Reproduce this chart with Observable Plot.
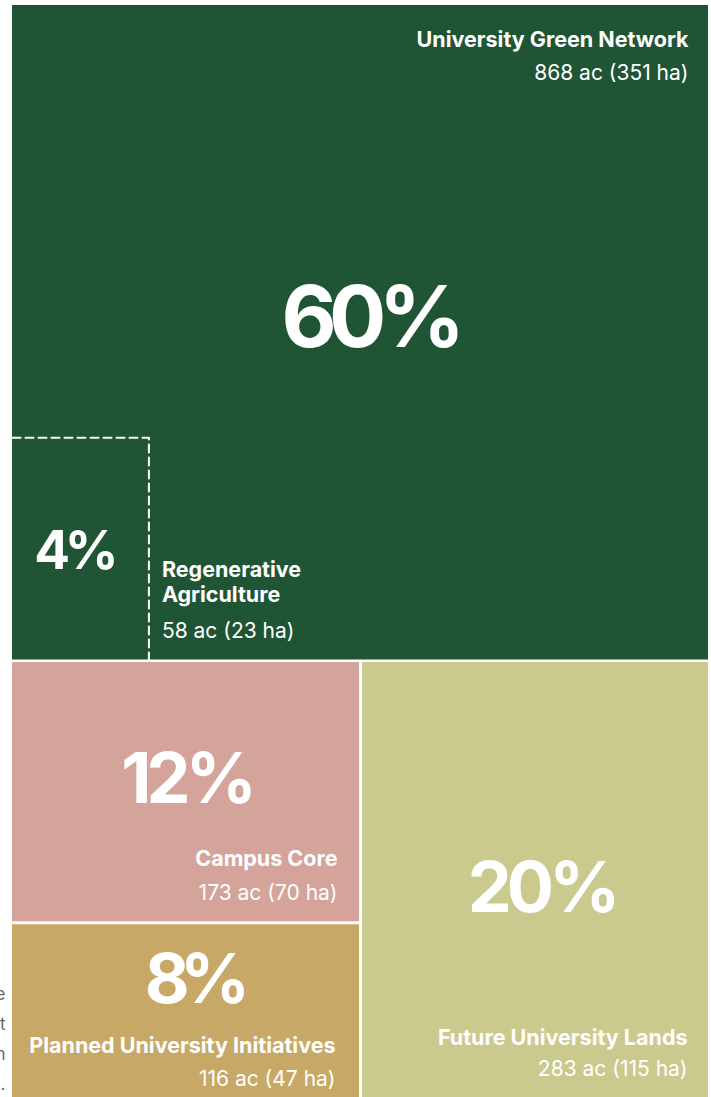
<!DOCTYPE html>
<html>
<head>
<meta charset="utf-8">
<script src="https://cdn.jsdelivr.net/npm/d3@7"></script>
<script src="https://cdn.jsdelivr.net/npm/@observablehq/plot@0.6"></script>
<style>
  html, body { margin: 0; padding: 0; background: #ffffff; }
  #chart svg { display: block; }
</style>
</head>
<body>
<div id="chart"></div>
<script>
// ---- data ----
const categories = ["University Green Network", "Regenerative Agriculture", "Campus Core", "Planned University Initiatives", "Future University Lands"];
const labelLines = ["University Green Network", "Regenerative\nAgriculture", "Campus Core", "Planned University Initiatives", "Future University Lands"];
const acres = [868, 58, 173, 116, 283];
const hectares = [351, 23, 70, 47, 115];
const shares = [60, 4, 12, 8, 20];
const colors = ["#1f5534", "#1f5534", "#d4a49b", "#c8a866", "#cac98e"];
const sideNote = ["e", "t", "n", "."];

// ---- layout (slice-and-dice from shares) ----
const W = 711, H = 1097;
const X0 = 12, X1 = 708, Y0 = 5, Y1 = 1097;
const total = shares[0] + shares[2] + shares[3] + shares[4];
const kx = 1 / (X1 - X0);          // data units per px (x)
const ky = total / (Y1 - Y0);      // data units per px (y)

const greenY = shares[0];
const bottom = total - greenY;
const leftW = (shares[2] + shares[3]) / bottom;
const pinkY = greenY + bottom * shares[2] / (shares[2] + shares[3]);
const regenW = 0.196;
const regenTop = greenY - shares[1] / regenW;

const rects = [
  {i: 0, x1: 0, x2: 1, y1: 0, y2: greenY},
  {i: 1, x1: 0, x2: regenW, y1: regenTop, y2: greenY},
  {i: 2, x1: 0, x2: leftW, y1: greenY, y2: pinkY},
  {i: 3, x1: 0, x2: leftW, y1: pinkY, y2: total},
  {i: 4, x1: leftW, x2: 1, y1: greenY, y2: total}
];
const filled = rects.filter(r => r.i !== 1);

// label anchors (px offsets from a rect corner)
const nameLayout = [
  {corner: "tr", dx: -20, dyName: 24, dyVal: 60, anchor: "end"},
  {corner: "br", dx: 13, dyName: -101, dyVal: -38, anchor: "start"},
  {corner: "br", dx: -23, dyName: -74, dyVal: -38, anchor: "end"},
  {corner: "br", dx: -25, dyName: -62, dyVal: -26, anchor: "end"},
  {corner: "br", dx: -21, dyName: -70, dyVal: -36, anchor: "end"}
];
const pctLayout = [
  {dx: 9, dy: -46.5, size: 85, ls: -0.09},
  {dx: -7, dy: -18, size: 53, ls: -0.1},
  {dx: 0, dy: -38, size: 70, ls: -0.06},
  {dx: 6, dy: -56.5, size: 69, ls: -0.14},
  {dx: 7, dy: -17, size: 70, ls: -0.07}
];

const names = rects.map(r => {
  const L = nameLayout[r.i];
  const cx = r.x2;
  const cy = L.corner === "tr" ? r.y1 : r.y2;
  return {
    x: cx + L.dx * kx,
    yName: cy + L.dyName * ky,
    yVal: cy + L.dyVal * ky,
    anchor: L.anchor,
    name: labelLines[r.i],
    value: `${acres[r.i]} ac (${hectares[r.i]} ha)`
  };
});
const pcts = rects.map(r => {
  const P = pctLayout[r.i];
  return {
    x: (r.x1 + r.x2) / 2 + P.dx * kx,
    y: (r.y1 + r.y2) / 2 + P.dy * ky,
    size: P.size,
    ls: P.ls,
    label: `${shares[r.i]}%`
  };
});

const dashed = [
  {x: 0, y: regenTop},
  {x: regenW, y: regenTop},
  {x: regenW, y: greenY}
];

const textMarks = [];
for (const anchor of ["start", "end"]) {
  const nm = names.filter(d => d.anchor === anchor);
  textMarks.push(Plot.text(nm, {x: "x", y: "yName", text: "name", textAnchor: anchor, lineAnchor: "top",
    fill: "white", fontSize: 21.5, fontWeight: 700, lineHeight: 1.16}));
  textMarks.push(Plot.text(nm, {x: "x", y: "yVal", text: "value", textAnchor: anchor, lineAnchor: "top",
    fill: "white", fontSize: 21, fontWeight: 400}));
}
for (const p of pcts) {
  textMarks.push(Plot.text([p], {x: "x", y: "y", text: "label", textAnchor: "middle",
    lineAnchor: "top", fill: "white", fontSize: p.size, fontWeight: 700}));
}

const notes = sideNote.map((t, j) => ({t, y: total - (90 - j * 30) * ky - 8 * ky}));

const chart = Plot.plot({
  width: W,
  height: H,
  margin: 0,
  style: {fontFamily: "Inter, 'Open Sans', sans-serif", background: "white", overflow: "hidden"},
  x: {domain: [0, 1], range: [X0, X1], axis: null},
  y: {domain: [0, total], range: [Y0, Y1], axis: null},
  marks: [
    Plot.rect(filled, {x1: "x1", x2: "x2", y1: "y1", y2: "y2", fill: d => colors[d.i]}),
    Plot.ruleY([greenY], {x1: 0, x2: 1, stroke: "white", strokeWidth: 2.5}),
    Plot.ruleX([leftW], {y1: greenY, y2: total, stroke: "white", strokeWidth: 3}),
    Plot.ruleY([pinkY], {x1: 0, x2: leftW, stroke: "white", strokeWidth: 3}),
    Plot.line(dashed, {x: "x", y: "y", stroke: "white", strokeWidth: 2, strokeDasharray: "8,5"}),
    ...textMarks,
    Plot.text(notes, {x: 0, y: "y", text: "t", dx: -7, textAnchor: "end", lineAnchor: "bottom",
      fill: "#666", fontSize: 17})
  ]
});
// tighten the big percentage figures (per label)
const lsBySize = new Map(pcts.map(p => [String(p.size), p.ls]));
d3.select(chart).selectAll("g")
  .filter(function () { return lsBySize.has(this.getAttribute("font-size")) && +this.getAttribute("font-size") >= 50; })
  .each(function () {
    d3.select(this).attr("letter-spacing", lsBySize.get(this.getAttribute("font-size")) + "em");
  });
document.getElementById("chart").appendChild(chart);
</script>
</body>
</html>
